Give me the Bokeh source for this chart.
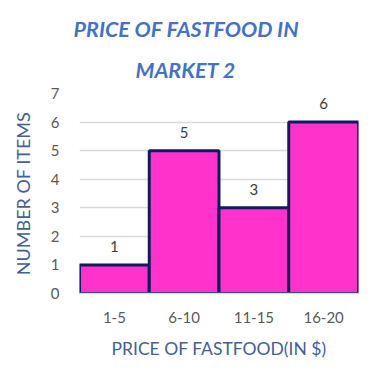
from bokeh.plotting import figure
from bokeh.models import ColumnDataSource, Title, FactorRange, LabelSet
from bokeh.core.properties import value
from bokeh.embed import file_html
from bokeh.resources import INLINE

categories = ["1-5", "6-10", "11-15", "16-20"]
counts = [1, 5, 3, 6]
y_ticks = [0, 1, 2, 3, 4, 5, 6, 7]
title_lines = ["PRICE OF FASTFOOD IN", "MARKET 2"]

FONT = "Lato"
src = ColumnDataSource(dict(cat=categories, val=counts, lab=[str(c) for c in counts],
                            ly=[c + 0.65 for c in counts]))

p = figure(width=368, height=365, output_backend="svg", toolbar_location=None,
           x_range=FactorRange(*categories, range_padding=0), y_range=(0, 7),
           min_border_left=79, min_border_right=10, min_border_top=93, min_border_bottom=72)
p.vbar(x="cat", top="val", width=1.0, source=src, fill_color="#FF33CC",
       line_color="#0C1D5B", line_width=3)
p.add_layout(LabelSet(x="cat", y="ly", text="lab", source=src, text_align="center",
                      text_baseline="middle", text_font_size="15px", text_color="#404040",
                      text_font=value(FONT)))

p.outline_line_color = None
p.xgrid.grid_line_color = None
p.ygrid.grid_line_color = "#D9D9D9"
p.ygrid.grid_line_width = 1.5
p.yaxis.ticker = y_ticks
p.yaxis.axis_line_color = None
p.yaxis.major_tick_line_color = None
p.yaxis.minor_tick_line_color = None
p.yaxis.major_label_text_font_size = "15px"
p.yaxis.major_label_text_color = "#595959"
p.yaxis.major_label_text_font = FONT
p.yaxis.major_label_standoff = 14
p.yaxis.axis_label = "NUMBER OF ITEMS"
p.yaxis.axis_label_text_font = FONT
p.yaxis.axis_label_text_font_style = "normal"
p.yaxis.axis_label_text_font_size = "18px"
p.yaxis.axis_label_text_color = "#44618F"
p.yaxis.axis_label_standoff = 14

p.xaxis.axis_line_color = "#D9D9D9"
p.xaxis.axis_line_width = 1.5
p.xaxis.major_tick_line_color = None
p.xaxis.minor_tick_line_color = None
p.xaxis.major_label_text_font_size = "15px"
p.xaxis.major_label_text_color = "#595959"
p.xaxis.major_label_text_font = FONT
p.xaxis.major_label_standoff = 12
p.xaxis.axis_label = "PRICE OF FASTFOOD(IN $)"
p.xaxis.axis_label_text_font = FONT
p.xaxis.axis_label_text_font_style = "normal"
p.xaxis.axis_label_text_font_size = "17.5px"
p.xaxis.axis_label_text_color = "#44618F"
p.xaxis.axis_label_standoff = 12

# line 2 (closest to the frame) first, then line 1 above it
p.add_layout(Title(text=title_lines[1], align="left", offset=56,
                   text_font=FONT, text_font_style="bold italic", text_font_size="21.5px",
                   text_color="#4472C4", standoff=22), "above")
p.add_layout(Title(text=title_lines[0], align="left", offset=-6,
                   text_font=FONT, text_font_style="bold italic", text_font_size="21.5px",
                   text_color="#4472C4", standoff=4), "above")

open("out.html", "w").write(file_html(p, INLINE))
